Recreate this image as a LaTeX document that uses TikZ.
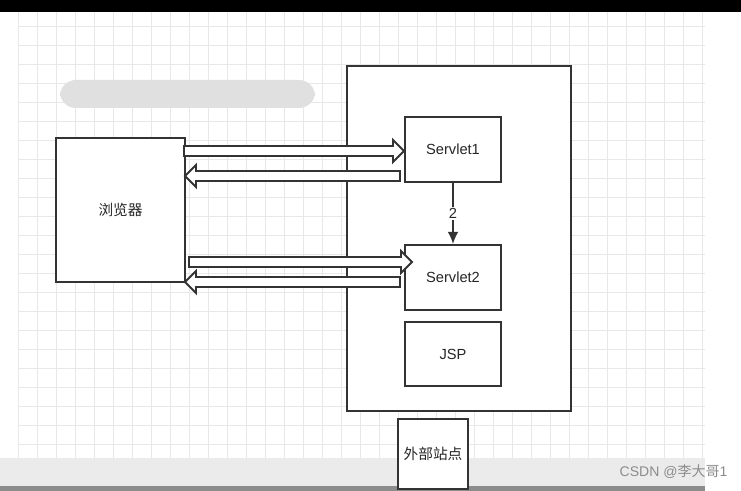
\documentclass[tikz,border=0pt]{standalone}
\usepackage{fontspec}
\usetikzlibrary{arrows.meta}
\setmainfont{Liberation Sans}
\newfontfamily\cjk{Noto Sans CJK SC}
\definecolor{gridc}{HTML}{E8E8E8}
\definecolor{linec}{HTML}{333333}
\begin{document}
\begin{tikzpicture}[x=0.75pt,y=-0.75pt,
  box/.style={draw=linec,line width=1.5pt,fill=white,inner sep=0pt},
  harrow/.style={draw=linec,line width=1.4pt,fill=white,line join=miter},
  lbl/.style={font=\fontsize{11}{13}\selectfont,text=black!85}]
\useasboundingbox (0,0) rectangle (741,491);
\fill[white] (0,0) rectangle (741,491);
\fill[black] (0,0) rectangle (741,12);
% grid
\foreach \x in {18,37,...,705} \draw[gridc,line width=0.7pt] (\x,12) -- (\x,458);
\foreach \y in {26,45,...,458} \draw[gridc,line width=0.7pt] (18,\y) -- (705,\y);
\fill[black!8] (0,458) rectangle (705,486);
\fill[black!45] (0,486) rectangle (705,491);
% blurred patch
\fill[black!12,rounded corners=12] (60,80) rectangle (315,108);
% boxes
\node[box,minimum width=224*0.75pt,minimum height=345*0.75pt,anchor=north west] (web) at (346,65) {};
\node[box,minimum width=129*0.75pt,minimum height=144*0.75pt,anchor=north west,lbl] (br) at (55,137) {\cjk 浏览器};
\node[box,minimum width=96*0.75pt,minimum height=65*0.75pt,anchor=north west,lbl] (s1) at (404,116) {Servlet1};
\node[box,minimum width=96*0.75pt,minimum height=65*0.75pt,anchor=north west,lbl] (s2) at (404,244) {Servlet2};
\node[box,minimum width=96*0.75pt,minimum height=64*0.75pt,anchor=north west,lbl] (jsp) at (404,321) {JSP};
\node[box,minimum width=70*0.75pt,minimum height=70*0.75pt,anchor=north west,lbl] (ext) at (397,418) {\cjk 外部站点};
% hollow arrows
\draw[harrow] (184,146) -- (393,146) -- (393,140) -- (404,151) -- (393,162) -- (393,156) -- (184,156) -- cycle;
\draw[harrow] (400,171) -- (196,171) -- (196,165) -- (185,176) -- (196,187) -- (196,181) -- (400,181) -- cycle;
\draw[harrow] (189,257) -- (401,257) -- (401,251) -- (412,262) -- (401,273) -- (401,267) -- (189,267) -- cycle;
\draw[harrow] (400,277) -- (196,277) -- (196,271) -- (185,282) -- (196,293) -- (196,287) -- (400,287) -- cycle;
% link
\draw[linec,line width=1.3pt,-{Latex[length=9pt,width=8pt]}] (s1.south) -- node[fill=white,inner sep=1pt,lbl]{2} (s2.north);
\node[text=black!45,font=\fontsize{10.5}{12}\selectfont,anchor=east] (wm) at (732,472) {CSDN @{\cjk 李大哥}1};
\end{tikzpicture}
\end{document}
